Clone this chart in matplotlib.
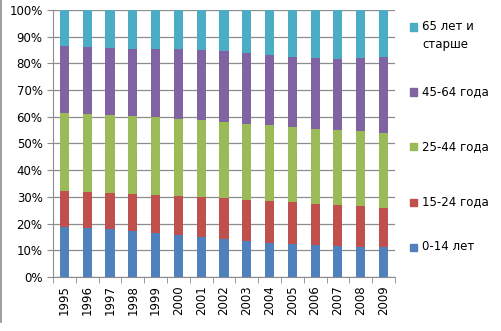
import numpy as np
import matplotlib
matplotlib.use("Agg")
import matplotlib.pyplot as plt
from matplotlib.patches import Rectangle
from matplotlib.lines import Line2D
from matplotlib.ticker import PercentFormatter, FixedLocator

years = [str(y) for y in range(1995, 2010)]

# shares of population by age group, %
age_0_14 = [18.8, 18.5, 17.9, 17.2, 16.6, 15.7, 15.1, 14.4, 13.6, 12.9, 12.4, 12.1, 11.6, 11.4, 11.3]
age_15_24 = [13.4, 13.3, 13.7, 14.0, 14.2, 14.6, 14.7, 15.1, 15.2, 15.6, 15.7, 15.4, 15.2, 15.1, 14.4]
age_25_44 = [29.3, 29.4, 29.1, 29.0, 29.0, 28.9, 29.0, 28.6, 28.5, 28.4, 28.2, 28.0, 28.3, 28.2, 28.3]
age_45_64 = [25.0, 24.9, 25.1, 25.1, 25.5, 26.1, 26.2, 26.5, 26.5, 26.2, 26.1, 26.5, 26.5, 27.2, 28.5]
age_65 = [13.5, 13.9, 14.2, 14.7, 14.7, 14.7, 15.0, 15.4, 16.2, 16.9, 17.6, 18.0, 18.4, 18.1, 17.5]

labels = ["0-14 лет", "15-24 года", "25-44 года", "45-64 года", "65 лет и\nстарше"]
colors = ["#4F81BD", "#C0504D", "#9BBB59", "#8064A2", "#4BACC6"]
series = [age_0_14, age_15_24, age_25_44, age_45_64, age_65]

fig = plt.figure(figsize=(5.02, 3.31), dpi=100)
ax = fig.add_axes([0.1056, 0.163, 0.681, 0.807])

x = np.arange(len(years))
bottom = np.zeros(len(years))
for vals, col in zip(series, colors):
    vals = np.array(vals)
    ax.bar(x, vals, 0.4, bottom=bottom, color=col, zorder=3)
    bottom += vals

ax.set_xlim(-0.5, len(years) - 0.5)
ax.set_ylim(0, 100)
ax.set_yticks(np.arange(0, 101, 10))
ax.yaxis.set_major_formatter(PercentFormatter(decimals=0))
ax.grid(axis="y", color="#8c8c8c", linewidth=0.9, zorder=0)

ax.set_xticks(x)
ax.set_xticklabels(years, rotation=90, fontsize=8.5)
ax.xaxis.set_minor_locator(FixedLocator(np.arange(-0.5, len(years), 1.0)))
ax.tick_params(axis="x", which="major", length=0, pad=6)
ax.tick_params(axis="x", which="minor", length=4, color="#8c8c8c")
ax.tick_params(axis="y", length=4, color="#8c8c8c", labelsize=8.5)

for s in ["top", "right"]:
    ax.spines[s].set_visible(False)
for s in ["left", "bottom"]:
    ax.spines[s].set_color("#8c8c8c")

# legend drawn by hand, top entry first
legend_y = [27, 92, 147, 202, 247]
for lab, col, yp in zip(labels[::-1], colors[::-1], legend_y):
    fy = 1 - yp / 331
    fig.patches.append(Rectangle((410 / 502, fy - 3.5 / 331), 7 / 502, 7 / 331,
                                 transform=fig.transFigure, color=col))
    fig.text(422 / 502, fy + 7 / 331, lab, fontsize=8.5, va="top", ha="left",
             linespacing=1.5)

# left edge of the chart frame
fig.lines.append(Line2D([1.5 / 502, 1.5 / 502], [1 - 322 / 331, 1], transform=fig.transFigure,
                        color="#8c8c8c", linewidth=1.2))

fig.savefig("out.png", dpi=100)
